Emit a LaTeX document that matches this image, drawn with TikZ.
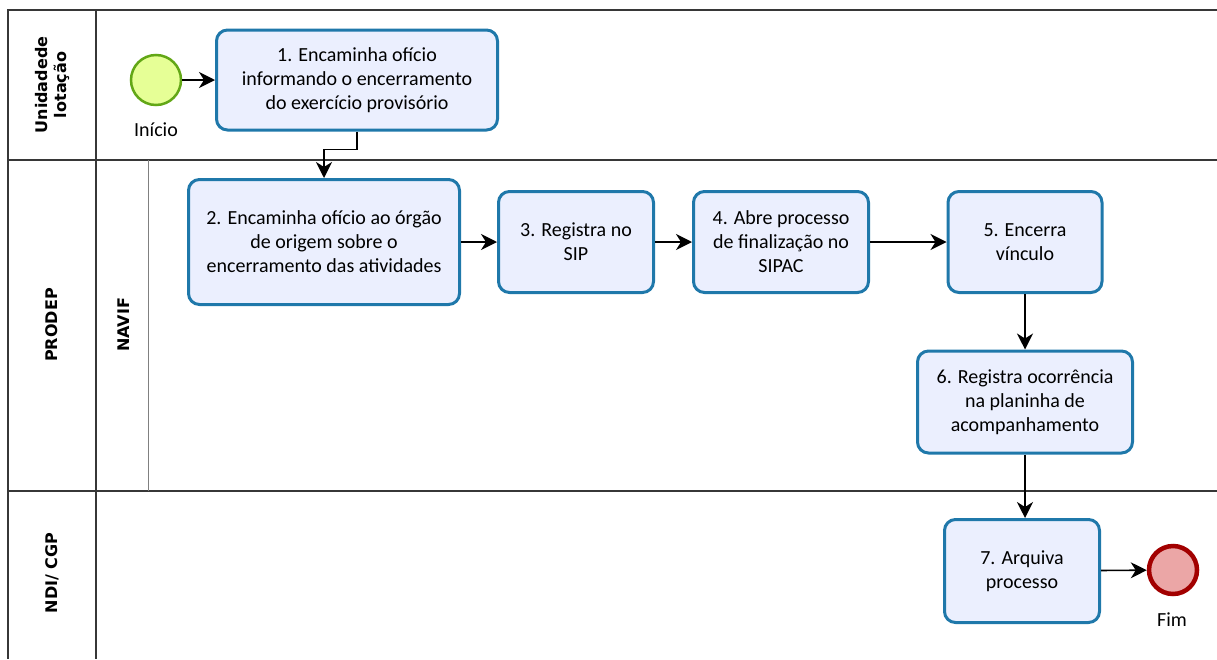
\documentclass[tikz,border=0pt]{standalone}
\usepackage{fontspec}
\setmainfont{Carlito}
\newfontfamily\lanefont{DejaVu Sans}
\usetikzlibrary{arrows.meta}
\definecolor{taskfill}{RGB}{235,239,254}
\definecolor{taskline}{RGB}{31,120,170}
\definecolor{startfill}{RGB}{230,255,150}
\definecolor{startline}{RGB}{98,167,22}
\definecolor{endfill}{RGB}{235,166,166}
\definecolor{endline}{RGB}{162,0,0}
\definecolor{poolline}{RGB}{55,55,55}
\tikzstyle{every path}=[line width=1.6pt]
\tikzstyle{task} = [draw=taskline, fill=taskfill, line width=3pt, rounded corners=11pt, align=center, font=\fontsize{20}{24}\selectfont, inner sep=0pt]
\tikzstyle{flow} = [-{Stealth[length=16pt,width=16pt,inset=5pt]}]
\tikzstyle{lane} = [rotate=90, font=\lanefont\bfseries\fontsize{16}{19}\selectfont, align=center]
\tikzstyle{pool} = [draw=poolline]
\tikzstyle{eventlabel} = [font=\fontsize{20}{24}\selectfont]

\begin{document}
\begin{tikzpicture}[x=1pt, y=-1pt]
            \useasboundingbox (0,0) rectangle (1217,659);
            \draw[pool] (1217,10) -- (8,10) -- (8,659);
            \draw[pool] (8,160) -- (1217,160);
            \draw[pool] (8,491) -- (1217,491);
            \draw[pool] (96,10) -- (96,659);
            \draw[pool, draw=gray, line width=1pt] (148,160) -- (148,491);

            \node[lane] (lotacao) at (52,85) {Unidadede\\lotação};
            \node[lane] (prodep) at (52,325) {PRODEP};
            \node[lane] (navif) at (124,325) {NAVIF};
            \node[lane] (ndi) at (52,573) {NDI/ CGP};

            \node[circle, draw=startline, fill=startfill, line width=2.5pt, minimum size=50pt] (inicio) at (156,80) {};
            \node[eventlabel] (inicioTxt) at (156,130) {Início};
            \node[task, minimum width=281pt, minimum height=100pt] (t1) at (357,80)
                {1. Encaminha ofício\\informando o encerramento\\do exercício provisório};
            \node[task, minimum width=271pt, minimum height=125pt] (t2) at (324,242)
                {2. Encaminha ofício ao órgão\\de origem sobre o\\encerramento das atividades};
            \node[task, minimum width=155pt, minimum height=101pt] (t3) at (576,242) {3. Registra no\\SIP};
            \node[task, minimum width=175pt, minimum height=101pt] (t4) at (781,242)
                {4. Abre processo\\de finalização no\\SIPAC};
            \node[task, minimum width=154pt, minimum height=101pt] (t5) at (1025,242) {5. Encerra\\vínculo};
            \node[task, minimum width=215pt, minimum height=102pt] (t6) at (1025,402)
                {6. Registra ocorrência\\na planinha de\\acompanhamento};
            \node[task, minimum width=155pt, minimum height=103pt] (t7) at (1022,571) {7. Arquiva\\processo};
            \node[circle, draw=endline, fill=endfill, line width=4.5pt, minimum size=48pt] (fim) at (1173,570) {};
            \node[eventlabel] (fimTxt) at (1172,620) {Fim};

            \draw[flow] (inicio) -- (t1);
            \draw[flow] (t1.south) -- ++(0,18) -| (t2.north);
            \draw[flow] (t2) -- (t3);
            \draw[flow] (t3) -- (t4);
            \draw[flow] (t4) -- (t5);
            \draw[flow] (t5) -- (t6);
            \draw[flow] (t6.south) -- (t6.south |- t7.north);
            \draw[flow] (t7) -- (fim);
        \end{tikzpicture}
\end{document}
